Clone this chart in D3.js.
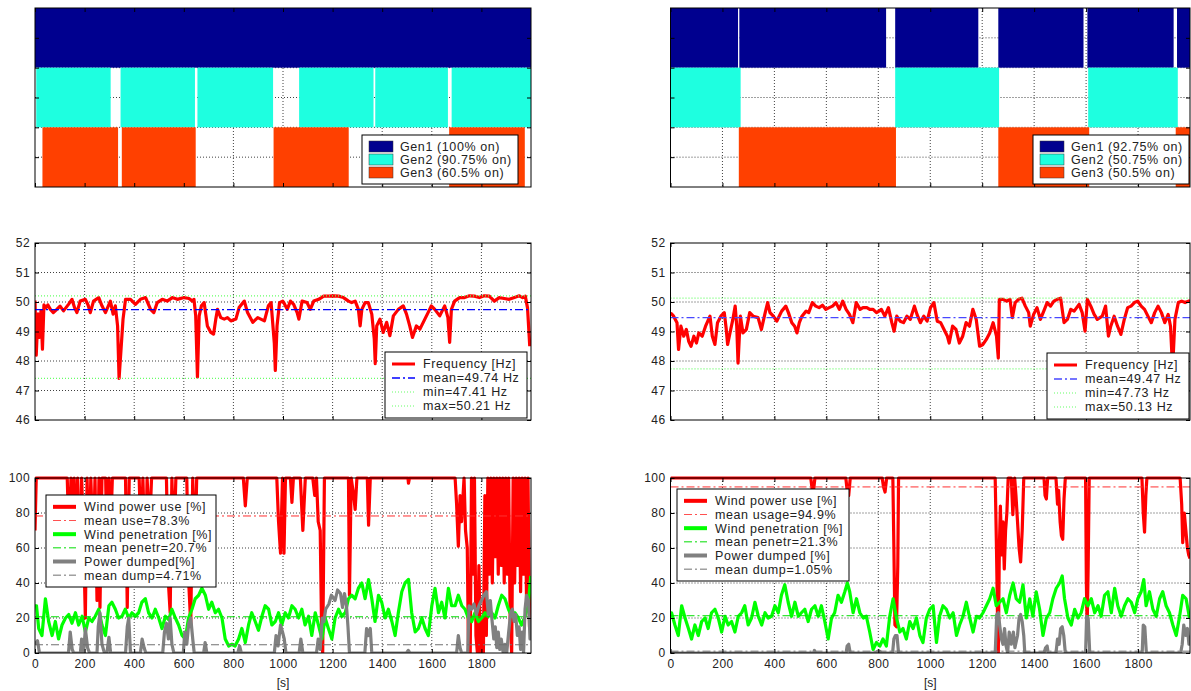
<!DOCTYPE html>
<html>
<head>
<meta charset="utf-8">
<script src="https://cdn.jsdelivr.net/npm/d3@7"></script>
<style>
  body { margin: 0; background: #fff; }
  text { font-family: "Liberation Sans", Arial, sans-serif; }
</style>
</head>
<body>
<svg width="1191" height="691"></svg>
<script>
// ---------- data ----------
const genNames = ["Gen1", "Gen2", "Gen3"];
const genColors = ["#00008f", "#1effe0", "#ff4000"];

// on-intervals [start s, end s]
const gen1OnL = [[0, 2000]];
const gen2OnL = [[5, 305], [345, 645], [655, 960], [1065, 1365], [1372, 1665], [1680, 2000]];
const gen3OnL = [[30, 335], [350, 648], [962, 1265], [1670, 1975]];
const genShareL = [100, 90.75, 60.5];

const gen1OnR = [[0, 260], [265, 830], [865, 1185], [1262, 1590], [1605, 1937], [1950, 2000]];
const gen2OnR = [[0, 270], [865, 1265], [1608, 1953]];
const gen3OnR = [[263, 868], [1262, 1612], [1945, 2000]];
const genShareR = [92.75, 50.75, 50.5];

// frequency [s, Hz]
const freqLeft = [[0,50.05],[5,48.2],[12,49.6],[18,48.8],[24,49.7],[30,48.4],[36,49.9],[44,49.8],[52,49.9],[62,49.75],[74,49.64],[88,49.75],[101,49.86],[115,49.7],[135,49.92],[149,50.09],[160,49.8],[169,49.64],[182,50.03],[203,50.09],[214,49.9],[223,49.64],[236,50.03],[257,50.15],[270,49.87],[284,49.64],[304,50.03],[315,49.59],[324,49.87],[333,49.19],[339,47.41],[347,48.41],[355,49.42],[365,50.09],[385,50.09],[405,49.92],[425,50.09],[446,50.15],[466,49.75],[479,49.64],[493,49.98],[513,50.09],[533,50.03],[554,50.15],[574,50.09],[601,50.15],[621,50.12],[635,50.03],[641,50.09],[648,49.53],[655,47.46],[662,49.53],[671,49.87],[682,49.98],[695,49.19],[709,48.97],[720,48.91],[729,49.42],[736,49.75],[749,49.47],[763,49.42],[776,49.47],[790,49.36],[810,49.42],[823,49.81],[844,50.03],[857,49.64],[878,49.31],[898,49.47],[925,49.36],[941,49.87],[952,49.98],[965,48.6],[969,47.68],[976,49.19],[986,49.98],[999,50.03],[1003,49.98],[1017,49.75],[1030,50.03],[1043,49.92],[1057,49.64],[1064,49.42],[1077,50.03],[1097,49.98],[1110,49.75],[1124,50.03],[1144,50.09],[1164,50.2],[1184,50.2],[1204,50.21],[1224,50.2],[1244,50.15],[1264,50.03],[1277,49.98],[1291,50.03],[1304,49.75],[1311,49.19],[1318,49.75],[1331,49.98],[1344,49.98],[1358,49.59],[1368,48.75],[1372,47.91],[1378,49.19],[1391,49.42],[1404,48.97],[1418,49.31],[1431,48.86],[1445,49.53],[1465,49.75],[1485,49.87],[1498,49.59],[1511,49.19],[1522,48.8],[1538,49.19],[1552,49.08],[1572,49.42],[1585,49.64],[1598,49.87],[1612,49.75],[1632,49.53],[1652,49.87],[1665,49.47],[1672,48.63],[1679,49.75],[1692,50.03],[1712,50.15],[1732,50.15],[1752,50.21],[1772,50.2],[1792,50.15],[1812,50.21],[1832,50.2],[1852,50.03],[1872,50.15],[1892,50.12],[1912,50.09],[1933,50.15],[1953,50.21],[1966,50.15],[1977,50.2],[1986,49.8],[1995,48.5]];
const freqStatsL = [49.74, 47.41, 50.21]; // mean, min, max

const freqRight = [[0,49.61],[3,49.61],[12,49.52],[25,49.3],[31,48.39],[40,49.18],[51,48.84],[61,49.07],[70,48.67],[79,48.5],[90,48.84],[100,48.61],[109,48.95],[122,48.84],[135,49.18],[152,49.52],[161,48.84],[171,48.56],[181,49.3],[194,49.52],[207,49.64],[214,49.13],[220,48.56],[229,48.95],[240,49.41],[249,49.86],[255,49.18],[260,47.93],[269,49.52],[279,48.95],[292,49.07],[305,49.64],[318,49.52],[337,49.47],[350,49.07],[363,49.58],[374,49.98],[383,49.64],[396,49.52],[409,49.35],[428,49.69],[444,49.86],[454,49.64],[467,49.3],[478,49.18],[487,48.95],[496,49.3],[506,49.52],[522,49.69],[532,49.64],[546,49.98],[559,49.86],[572,49.81],[585,49.89],[598,49.75],[611,49.81],[624,49.86],[637,49.98],[650,49.75],[663,50.03],[676,49.75],[689,49.58],[702,49.3],[715,49.98],[730,49.75],[741,49.81],[756,49.81],[767,49.75],[780,49.75],[793,49.64],[803,49.69],[812,49.75],[825,49.52],[839,49.81],[852,49.3],[861,49.01],[871,49.52],[884,49.35],[897,49.3],[910,49.52],[923,49.41],[939,49.86],[949,49.58],[962,49.3],[975,49.52],[988,49.35],[1001,49.81],[1014,49.98],[1027,49.35],[1040,49.3],[1053,49.07],[1066,48.84],[1073,48.61],[1086,49.18],[1099,49.07],[1112,48.61],[1125,48.84],[1138,49.3],[1151,49.18],[1164,49.75],[1177,49.41],[1190,48.5],[1203,48.56],[1216,48.73],[1229,48.95],[1242,49.3],[1255,48.84],[1262,48.1],[1266,50.09],[1281,50.09],[1294,50.03],[1307,50.09],[1316,49.47],[1327,49.98],[1340,50.09],[1353,50.13],[1366,49.86],[1379,49.64],[1385,49.18],[1398,49.58],[1411,49.81],[1424,49.41],[1437,49.69],[1450,49.98],[1463,49.86],[1476,50.03],[1489,50.09],[1502,50.13],[1515,49.3],[1528,49.41],[1541,49.75],[1554,49.69],[1573,49.92],[1585,49.64],[1596,49.01],[1605,50.09],[1618,49.86],[1631,49.58],[1643,49.41],[1662,49.52],[1675,49.86],[1686,48.84],[1695,49.18],[1708,49.52],[1721,49.18],[1734,48.9],[1747,49.41],[1760,49.81],[1773,49.86],[1786,49.98],[1799,50.03],[1812,49.86],[1825,49.75],[1838,49.52],[1851,49.3],[1864,49.64],[1877,49.86],[1890,49.64],[1903,49.3],[1916,49.58],[1925,49.18],[1933,47.73],[1942,49.41],[1955,49.98],[1968,50.03],[1981,49.98],[1994,50.03],[2000,50.03]];
const freqStatsR = [49.47, 47.73, 50.13];

// wind power use [%]
const useLeft = [[0,70],[5,100],[130,100],[138,60],[145,100],[150,40],[158,100],[165,55],[172,100],[180,45],[188,100],[195,70],[203,20],[210,100],[218,50],[225,100],[235,60],[242,100],[250,30],[258,100],[262,26],[270,100],[285,100],[290,55],[298,100],[305,70],[312,100],[365,100],[372,26],[380,100],[420,100],[428,60],[435,100],[445,50],[452,100],[462,70],[470,100],[530,100],[538,40],[545,23],[552,100],[560,60],[568,100],[612,100],[620,40],[628,16],[636,100],[645,55],[652,100],[840,100],[848,84],[856,100],[975,100],[982,75],[990,57],[998,100],[1004,57],[1010,100],[1030,100],[1036,86],[1042,100],[1070,100],[1080,70],[1090,100],[1120,100],[1128,90],[1135,100],[1142,75],[1150,70],[1155,20],[1160,0],[1167,100],[1264,100],[1268,33],[1275,100],[1285,90],[1291,82],[1298,100],[1340,100],[1345,73],[1352,100],[1504,100],[1506,97],[1510,100],[1694,100],[1700,85],[1707,61],[1714,90],[1720,75],[1730,100],[1736,70],[1743,60],[1748,0],[1755,0],[1760,100],[1766,45],[1772,100],[1778,10],[1784,0],[1790,50],[1796,0],[1802,20],[1808,0],[1814,90],[1820,10],[1826,100],[1832,45],[1838,100],[1844,40],[1850,100],[1856,55],[1862,100],[1868,45],[1874,100],[1880,50],[1886,100],[1892,40],[1898,100],[1904,45],[1910,100],[1916,20],[1922,0],[1928,100],[1934,40],[1940,100],[1946,50],[1952,100],[1958,35],[1964,100],[1970,45],[1976,100],[1982,30],[1988,100],[1994,15],[1999,40]];
const useRight = [[0,100],[540,100],[545,94],[550,92],[556,100],[675,100],[680,93],[686,90],[692,100],[815,100],[820,95],[826,92],[832,100],[856,100],[860,60],[864,16],[870,15],[875,50],[878,100],[1250,100],[1255,60],[1259,20],[1262,0],[1266,60],[1270,84],[1275,56],[1280,75],[1285,48],[1290,70],[1295,80],[1300,100],[1312,100],[1318,79],[1325,100],[1330,90],[1336,75],[1342,60],[1348,52],[1354,70],[1360,100],[1438,100],[1442,90],[1447,88],[1452,100],[1484,100],[1490,85],[1494,93],[1500,75],[1505,67],[1510,65],[1515,88],[1520,100],[1598,100],[1601,40],[1604,14],[1608,50],[1612,100],[1815,100],[1820,80],[1825,69],[1830,90],[1834,100],[1962,100],[1968,85],[1972,63],[1978,80],[1984,70],[1990,60],[1995,56],[2000,54]];

// wind penetration [%]
const penLeft = [[0,27],[6,27],[15,14],[28,10],[42,31],[55,18],[69,10],[82,18],[95,8],[109,16],[123,20],[136,22],[149,17],[163,23],[176,16],[190,21],[203,12],[217,20],[230,18],[243,21],[257,25],[270,16],[284,10],[298,27],[310,29],[324,25],[337,20],[351,21],[364,25],[378,20],[391,23],[404,21],[418,23],[431,29],[445,31],[458,23],[472,20],[485,25],[499,20],[512,14],[526,21],[539,19],[552,25],[566,20],[579,16],[593,10],[606,8],[619,20],[633,25],[646,31],[660,33],[673,37],[687,33],[700,25],[713,29],[727,23],[740,25],[754,20],[767,8],[781,4],[794,5],[807,4],[821,8],[834,14],[848,6],[861,16],[874,23],[888,18],[901,13],[915,21],[928,27],[942,25],[955,16],[969,18],[982,23],[995,16],[1009,23],[1022,20],[1036,27],[1049,25],[1063,20],[1076,25],[1089,16],[1103,21],[1116,10],[1130,23],[1143,16],[1157,8],[1170,20],[1183,14],[1197,8],[1210,20],[1224,25],[1237,21],[1251,23],[1264,31],[1277,33],[1291,31],[1304,37],[1318,40],[1331,31],[1345,42],[1358,31],[1371,18],[1385,33],[1398,29],[1412,20],[1425,25],[1439,18],[1452,10],[1465,23],[1479,35],[1492,40],[1506,42],[1519,23],[1533,12],[1546,14],[1560,20],[1573,14],[1586,10],[1600,27],[1613,37],[1627,23],[1640,29],[1653,20],[1667,37],[1680,27],[1694,27],[1707,33],[1721,27],[1734,25],[1747,20],[1761,18],[1774,23],[1788,18],[1801,20],[1815,23],[1828,21],[1841,23],[1855,20],[1868,27],[1882,33],[1895,31],[1909,25],[1922,21],[1935,23],[1949,20],[1962,16],[1976,21],[1989,27],[1999,44]];
const penRight = [[0,23],[4,23],[17,16],[30,10],[43,27],[56,20],[69,14],[81,8],[94,16],[107,10],[120,18],[133,20],[145,14],[158,23],[171,25],[184,20],[197,12],[210,21],[222,16],[235,18],[248,12],[261,21],[274,23],[286,27],[299,16],[312,20],[325,29],[338,21],[351,16],[364,23],[376,20],[389,21],[402,27],[415,23],[427,33],[440,39],[453,29],[466,21],[479,29],[492,21],[504,23],[517,25],[530,18],[543,25],[556,27],[569,21],[581,27],[594,18],[607,8],[620,20],[632,23],[645,33],[658,29],[671,35],[681,40],[690,35],[703,23],[716,31],[729,23],[742,20],[754,21],[767,12],[780,2],[793,6],[806,4],[818,8],[831,4],[844,21],[857,31],[870,20],[883,12],[895,14],[908,8],[921,18],[934,14],[947,20],[960,10],[972,6],[985,20],[998,25],[1011,27],[1024,6],[1036,21],[1049,27],[1062,25],[1075,20],[1088,23],[1101,10],[1113,16],[1126,21],[1139,29],[1152,20],[1165,12],[1178,21],[1190,20],[1203,23],[1216,27],[1229,31],[1242,37],[1254,27],[1267,29],[1280,31],[1293,23],[1306,33],[1319,40],[1331,31],[1344,29],[1357,39],[1370,20],[1383,31],[1395,21],[1408,35],[1421,25],[1434,10],[1447,20],[1460,23],[1472,31],[1485,37],[1498,40],[1508,44],[1517,31],[1530,20],[1543,16],[1556,25],[1569,20],[1581,23],[1594,31],[1607,27],[1620,31],[1633,23],[1646,27],[1658,21],[1671,33],[1684,35],[1697,23],[1710,37],[1722,27],[1735,21],[1748,27],[1761,31],[1774,29],[1787,23],[1799,31],[1812,35],[1822,42],[1831,27],[1844,35],[1857,25],[1870,21],[1883,31],[1895,35],[1908,27],[1921,23],[1934,16],[1947,10],[1960,21],[1972,33],[1985,31],[1998,20]];

// power dumped [%]
const dumpLeft = [[0,5],[10,7],[18,0],[135,0],[142,12],[150,2],[156,0],[183,0],[188,8],[196,0],[203,14],[212,3],[220,0],[250,0],[255,15],[262,23],[270,5],[280,0],[290,0],[298,9],[305,0],[365,0],[372,15],[378,20],[385,0],[425,0],[432,8],[440,3],[447,0],[515,0],[522,12],[530,17],[538,8],[545,20],[552,5],[560,0],[598,0],[604,12],[612,5],[620,17],[628,20],[636,8],[642,0],[680,0],[686,6],[693,0],[818,0],[825,4],[832,0],[965,0],[972,10],[980,4],[990,16],[998,12],[1005,8],[1012,0],[1065,0],[1072,8],[1080,0],[1135,0],[1142,8],[1150,2],[1158,20],[1165,18],[1172,25],[1185,28],[1195,33],[1210,30],[1220,36],[1232,34],[1240,26],[1248,34],[1256,27],[1262,15],[1268,0],[1330,0],[1337,14],[1345,10],[1352,14],[1358,0],[1498,0],[1505,1.5],[1512,0],[1700,0],[1707,10],[1714,3],[1720,0],[1745,0],[1750,27],[1760,25],[1770,28],[1780,22],[1790,27],[1800,30],[1810,33],[1820,35],[1828,22],[1836,30],[1842,20],[1850,8],[1856,15],[1862,3],[1868,12],[1874,2],[1880,8],[1888,0],[1895,5],[1902,0],[1910,12],[1918,23],[1925,25],[1932,18],[1938,22],[1945,10],[1952,15],[1958,2],[1965,12],[1970,0],[1976,25],[1982,33],[1990,30],[1996,8],[2000,15]];
const dumpRight = [[0,0],[550,0],[554,1.5],[558,0],[676,0],[680,4],[686,5],[692,0],[790,0],[796,1],[806,1],[812,0],[855,0],[860,8],[866,10],[872,10],[878,0],[1250,0],[1256,22],[1262,23],[1268,15],[1274,8],[1280,5],[1286,14],[1292,4],[1298,0],[1304,12],[1312,5],[1320,12],[1326,3],[1336,10],[1342,20],[1348,22],[1354,18],[1360,10],[1364,0],[1438,0],[1444,3],[1450,4],[1454,0],[1484,0],[1490,8],[1496,5],[1502,14],[1508,15],[1514,10],[1520,0],[1598,0],[1602,21],[1608,20],[1614,0],[1816,0],[1820,16],[1826,15],[1832,0],[1964,0],[1970,5],[1976,16],[1984,10],[1990,14],[1996,5],[2000,10]];

const windMeansL = [78.3, 20.7, 4.71];
const windMeansR = [94.9, 21.3, 1.05];
const windLabelsL = ["Wind power use [%]", "mean use=78.3%", "Wind penetration [%]", "mean penetr=20.7%", "Power dumped[%]", "mean dump=4.71%"];
const windLabelsR = ["Wind power use [%]", "mean usage=94.9%", "Wind penetration [%]", "mean penetr=21.3%", "Power dumped [%]", "mean dump=1.05%"];

const timeTicks = d3.range(0, 2000, 200);
const freqTicks = d3.range(46, 53, 1);
const pctTicks = d3.range(0, 101, 20);

// ---------- layout ----------
const svg = d3.select("svg");
const cols = [
  { x0: 35, x1: 531, gens: [gen1OnL, gen2OnL, gen3OnL], share: genShareL, freq: freqLeft, fstats: freqStatsL,
    meanBlue: "#0000ff", use: useLeft, pen: penLeft, dump: dumpLeft, wmeans: windMeansL, wlabels: windLabelsL,
    genLeg: [362, 135, 156, 49], freqLeg: [385, 352, 142, 66], windLeg: [46, 495, 170, 92] },
  { x0: 670.5, x1: 1190, gens: [gen1OnR, gen2OnR, gen3OnR], share: genShareR, freq: freqRight, fstats: freqStatsR,
    meanBlue: "#4848ff", use: useRight, pen: penRight, dump: dumpRight, wmeans: windMeansR, wlabels: windLabelsR,
    genLeg: [1033, 135, 156, 49], freqLeg: [1047, 353, 142, 66], windLeg: [677, 489, 172, 92] }
];
const rows = { gen: [187, 8], freq: [420, 243], wind: [653, 478] };

const dashDot = "8,3,2,3";
const font = "'Liberation Sans', Arial, sans-serif";
let clipId = 0;

function frame(g, x, y, xTicks, yTicks) {
  const [yb, yt] = y.range();
  const [xl, xr] = x.range();
  // dotted grid
  g.append("g").selectAll("line").data(xTicks.filter(d => d > 0)).join("line")
    .attr("x1", d => x(d)).attr("x2", d => x(d)).attr("y1", yt).attr("y2", yb)
    .attr("stroke", "#000").attr("stroke-dasharray", "1,2").attr("stroke-opacity", 0.75);
  g.append("g").selectAll("line").data(yTicks.filter(d => y(d) > yt + 1 && y(d) < yb - 1)).join("line")
    .attr("x1", xl).attr("x2", xr).attr("y1", d => y(d)).attr("y2", d => y(d))
    .attr("stroke", "#000").attr("stroke-dasharray", "1,2").attr("stroke-opacity", 0.75);
}

function axes(g, x, y, xTicks, yTicks, showX, showY, fmtY) {
  const [yb, yt] = y.range();
  const [xl, xr] = x.range();
  const style = sel => {
    sel.select(".domain").remove();
    sel.selectAll("line").attr("stroke", "#000");
    sel.selectAll("text").attr("fill", "#222").attr("font-size", 12)
      .attr("font-family", font).attr("letter-spacing", "0.4px");
  };
  g.append("g").attr("transform", `translate(0,${yb})`)
    .call(d3.axisBottom(x).tickValues(xTicks).tickSize(-4).tickPadding(6).tickFormat(showX ? d3.format("d") : ""))
    .call(style);
  g.append("g").attr("transform", `translate(0,${yt})`)
    .call(d3.axisTop(x).tickValues(xTicks).tickSize(-4).tickFormat("")).call(style);
  g.append("g").attr("transform", `translate(${xl},0)`)
    .call(d3.axisLeft(y).tickValues(yTicks).tickSize(-4).tickPadding(5).tickFormat(showY ? fmtY : ""))
    .call(style);
  g.append("g").attr("transform", `translate(${xr},0)`)
    .call(d3.axisRight(y).tickValues(yTicks).tickSize(-4).tickFormat("")).call(style);
  g.append("rect").attr("x", xl).attr("y", yt).attr("width", xr - xl).attr("height", yb - yt)
    .attr("fill", "none").attr("stroke", "#000").attr("stroke-width", 1);
}

function clipped(g, x, y) {
  const id = "clip" + (clipId++);
  const [yb, yt] = y.range();
  const [xl, xr] = x.range();
  g.append("clipPath").attr("id", id).append("rect")
    .attr("x", xl).attr("y", yt - 2).attr("width", xr - xl).attr("height", yb - yt + 2);
  return g.append("g").attr("clip-path", `url(#${id})`);
}

function legend(g, box, items) {
  const [lx, ly, lw, lh] = box;
  const lg = g.append("g");
  lg.append("rect").attr("x", lx).attr("y", ly).attr("width", lw).attr("height", lh)
    .attr("fill", "#fff").attr("stroke", "#000").attr("stroke-width", 1);
  const n = items.length;
  const step = (lh - 10) / n;
  items.forEach((it, i) => {
    const cy = ly + 5 + step * (i + 0.5);
    if (it.kind === "rect") {
      lg.append("rect").attr("x", lx + 7).attr("y", cy - 5.5).attr("width", 24).attr("height", 11)
        .attr("fill", it.color).attr("stroke", "#333").attr("stroke-width", 0.5);
    } else {
      lg.append("line").attr("x1", lx + 7).attr("x2", lx + 30).attr("y1", cy).attr("y2", cy)
        .attr("stroke", it.color).attr("stroke-width", it.width)
        .attr("stroke-dasharray", it.dash || null);
    }
    lg.append("text").attr("x", lx + 38).attr("y", cy).attr("dy", "0.35em")
      .attr("font-size", 12.5).attr("letter-spacing", "0.6px").attr("fill", "#222").text(it.label);
  });
}

const line = (x, y) => d3.line().x(d => x(d[0])).y(d => y(d[1]));

cols.forEach(c => {
  const x = d3.scaleLinear().domain([0, 2000]).range([c.x0, c.x1]);

  // ---- generator on/off panel ----
  {
    const y = d3.scaleLinear().domain([0.5, 3.5]).range(rows.gen);
    const g = svg.append("g");
    frame(g, x, y, timeTicks, [1, 1.5, 2, 2.5, 3]);
    c.gens.forEach((ints, k) => {
      const level = 3 - k;
      g.append("g").selectAll("rect").data(ints).join("rect")
        .attr("x", d => x(d[0])).attr("width", d => x(d[1]) - x(d[0]))
        .attr("y", y(level + 0.5)).attr("height", y(level - 0.5) - y(level + 0.5))
        .attr("fill", genColors[k]);
    });
    axes(g, x, y, timeTicks, [1, 1.5, 2, 2.5, 3], false, false);
    legend(g, c.genLeg, genNames.map((n, k) => ({ kind: "rect", color: genColors[k], label: `${n} (${c.share[k]}% on)` })));
  }

  // ---- frequency panel ----
  {
    const y = d3.scaleLinear().domain([46, 52]).range(rows.freq);
    const g = svg.append("g");
    frame(g, x, y, timeTicks, freqTicks);
    const cg = clipped(g, x, y);
    cg.append("path").datum(c.freq).attr("d", line(x, y))
      .attr("fill", "none").attr("stroke", "#ff0000").attr("stroke-width", 3.2).attr("stroke-linejoin", "round");
    const stats = [
      { v: c.fstats[0], color: c.meanBlue, dash: dashDot, w: 1.3 },
      { v: c.fstats[1], color: "#66ff66", dash: "1,2", w: 1.2 },
      { v: c.fstats[2], color: "#66ff66", dash: "1,2", w: 1.2 }
    ];
    cg.append("g").selectAll("line").data(stats).join("line")
      .attr("x1", c.x0).attr("x2", c.x1).attr("y1", d => y(d.v)).attr("y2", d => y(d.v))
      .attr("stroke", d => d.color).attr("stroke-width", d => d.w).attr("stroke-dasharray", d => d.dash);
    axes(g, x, y, timeTicks, freqTicks, false, true, d3.format("d"));
    legend(g, c.freqLeg, [
      { kind: "line", color: "#ff0000", width: 3, label: "Frequency [Hz]" },
      { kind: "line", color: c.meanBlue, width: 1.3, dash: dashDot, label: `mean=${c.fstats[0]} Hz` },
      { kind: "line", color: "#66ff66", width: 1.2, dash: "1,2", label: `min=${c.fstats[1]} Hz` },
      { kind: "line", color: "#66ff66", width: 1.2, dash: "1,2", label: `max=${c.fstats[2]} Hz` }
    ]);
  }

  // ---- wind panel ----
  {
    const y = d3.scaleLinear().domain([0, 100]).range(rows.wind);
    const g = svg.append("g");
    frame(g, x, y, timeTicks, pctTicks);
    const cg = clipped(g, x, y);
    const series = [
      { data: c.use, color: "#ff0000", mean: c.wmeans[0], mcolor: "#ff3030" },
      { data: c.pen, color: "#00ff00", mean: c.wmeans[1], mcolor: "#00dd00" },
      { data: c.dump, color: "#808080", mean: c.wmeans[2], mcolor: "#707070" }
    ];
    series.forEach(s => {
      cg.append("path").datum(s.data).attr("d", line(x, y))
        .attr("fill", "none").attr("stroke", s.color).attr("stroke-width", 3.2).attr("stroke-linejoin", "round");
      cg.append("line").attr("x1", c.x0).attr("x2", c.x1).attr("y1", y(s.mean)).attr("y2", y(s.mean))
        .attr("stroke", s.mcolor).attr("stroke-width", 1).attr("stroke-dasharray", dashDot);
    });
    axes(g, x, y, timeTicks, pctTicks, true, true, d3.format("d"));
    g.append("text").attr("x", (c.x0 + c.x1) / 2).attr("y", 683).attr("dy", "0.35em")
      .attr("text-anchor", "middle").attr("font-size", 12).attr("fill", "#222").text("[s]");
    legend(g, c.windLeg, [
      { kind: "line", color: "#ff0000", width: 4, label: c.wlabels[0] },
      { kind: "line", color: "#ff5050", width: 1, dash: dashDot, label: c.wlabels[1] },
      { kind: "line", color: "#00ff00", width: 4, label: c.wlabels[2] },
      { kind: "line", color: "#00dd00", width: 1, dash: dashDot, label: c.wlabels[3] },
      { kind: "line", color: "#808080", width: 4, label: c.wlabels[4] },
      { kind: "line", color: "#707070", width: 1, dash: dashDot, label: c.wlabels[5] }
    ]);
  }
});
</script>
</body>
</html>
